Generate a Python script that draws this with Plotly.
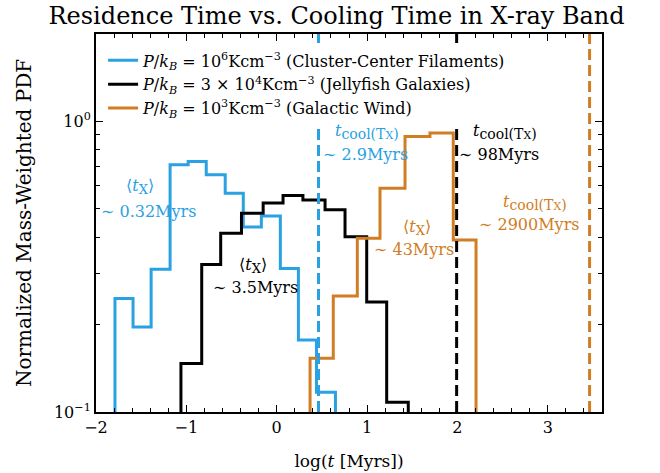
import numpy as np
import plotly.graph_objects as go

# ---------------- data ----------------
blue_edges = [-1.79, -1.59, -1.39, -1.18, -0.98, -0.78, -0.57, -0.37, -0.17, 0.04, 0.24, 0.44, 0.65]
blue_vals = [0.246, 0.196, 0.310, 0.710, 0.728, 0.655, 0.566, 0.433, 0.473, 0.312, 0.177, 0.117]

black_edges = [-1.06, -0.83, -0.62, -0.39, -0.15, 0.07, 0.29, 0.535, 0.756, 0.996, 1.217, 1.456]
black_vals = [0.147, 0.322, 0.412, 0.483, 0.524, 0.556, 0.537, 0.497, 0.401, 0.239, 0.108]

orange_edges = [0.369, 0.626, 0.892, 1.143, 1.42, 1.696, 1.954, 2.206]
orange_vals = [0.153, 0.251, 0.396, 0.589, 0.887, 0.912, 0.391]

series_names = [
    "<i>P</i>/<i>k</i><sub><i>B</i></sub> = 10<sup>6</sup>Kcm<sup>−3</sup> (Cluster-Center Filaments)",
    "<i>P</i>/<i>k</i><sub><i>B</i></sub> = 3 × 10<sup>4</sup>Kcm<sup>−3</sup> (Jellyfish Galaxies)",
    "<i>P</i>/<i>k</i><sub><i>B</i></sub> = 10<sup>3</sup>Kcm<sup>−3</sup> (Galactic Wind)",
]
colors = ["#2aa1e2", "#000000", "#d07d24"]

t_cool_myr = [2.9, 98, 2900]          # cooling times (vertical dashed lines)
t_cool_labels = ["∼ 2.9Myrs", "∼ 98Myrs", "∼ 2900Myrs"]
t_mean_labels = ["∼ 0.32Myrs", "∼ 3.5Myrs", "∼ 43Myrs"]

x_ticks = [-2, -1, 0, 1, 2, 3]
x_tick_text = ["−2", "−1", "0", "1", "2", "3"]
y_ticks = [0.1, 1.0]
y_tick_text = ["10<sup>−1</sup>", "10<sup>0</sup>"]

FLOOR = 0.05
FONT = "DejaVu Serif"

fig = go.Figure()
for edges, vals, name, col in [(blue_edges, blue_vals, series_names[0], colors[0]),
                               (black_edges, black_vals, series_names[1], colors[1]),
                               (orange_edges, orange_vals, series_names[2], colors[2])]:
    xs = [edges[0]] + list(edges)
    ys = [FLOOR] + list(vals) + [FLOOR]
    fig.add_trace(go.Scatter(x=xs, y=ys, mode="lines", line=dict(color=col, width=3, shape="hv"),
                             name=name))

for t, col in zip(t_cool_myr, colors):
    fig.add_shape(type="line", xref="x", yref="paper", x0=np.log10(t), x1=np.log10(t), y0=0, y1=1,
                  line=dict(color=col, width=3, dash="11px,5px"))

def ann(x, ylog, text, col, size=16):
    fig.add_annotation(x=x, y=ylog, xref="x", yref="y", text=text, showarrow=False,
                       font=dict(family=FONT, size=size, color=col), xanchor="center", yanchor="middle")

tX = "⟨<i>t</i><sub><span style='font-size:13px'>X</span></sub>⟩"
tc = ("<i>t</i><sub><span style='font-size:14px'>cool(T</span><span style='font-size:11px'>X</span>"
      "<span style='font-size:14px'>)</span></sub>")
# mean residence time labels
ann(-1.51, -0.225, tX, colors[0])
ann(-1.42, -0.311, t_mean_labels[0], colors[0])
ann(-0.26, -0.497, tX, colors[1])
ann(-0.24, -0.570, t_mean_labels[1], colors[1])
ann(1.55, -0.366, tX, colors[2])
ann(1.52, -0.439, t_mean_labels[2], colors[2])
# cooling time labels
ann(1.0, -0.036, tc, colors[0])
ann(0.98, -0.115, t_cool_labels[0], colors[0])
ann(2.53, -0.036, tc, colors[1])
ann(2.46, -0.115, t_cool_labels[1], colors[1])
ann(2.86, -0.278, tc, colors[2])
ann(2.80, -0.353, t_cool_labels[2], colors[2])

axis_common = dict(showline=True, linewidth=2, linecolor="black", mirror="allticks",
                   ticks="inside", tickcolor="black", showgrid=False, zeroline=False,
                   automargin=False,
                   tickfont=dict(family=FONT, size=16, color="black"))

fig.update_xaxes(range=[-2, 3.6], tickvals=x_ticks, ticktext=x_tick_text, ticklen=7, tickwidth=1.2,
                 minor=dict(ticks="inside", dtick=0.2, tick0=0, ticklen=4, tickcolor="black", tickwidth=1),
                 title=dict(text="log(<i>t</i> [Myrs])", font=dict(family=FONT, size=17, color="black"),
                            standoff=19),
                 **axis_common)
fig.update_yaxes(type="log", range=[-1, np.log10(2)], tickvals=y_ticks, ticktext=y_tick_text,
                 ticklen=7, tickwidth=1.2,
                 minor=dict(ticks="inside", tickvals=[0.2, 0.3, 0.4, 0.5, 0.6, 0.7, 0.8, 0.9, 2.0],
                            ticklen=4, tickcolor="black", tickwidth=1),
                 title=dict(text="Normalized Mass-Weighted PDF", font=dict(family=FONT, size=20, color="black"),
                            standoff=17),
                 **axis_common)

fig.update_layout(
    width=660, height=473,
    margin=dict(l=96, r=58, t=34, b=61),
    paper_bgcolor="white", plot_bgcolor="white",
    title=dict(text="Residence Time vs. Cooling Time in X-ray Band", x=0.51, xanchor="center",
               y=0.968, yanchor="middle", font=dict(family=FONT, size=24, color="black")),
    legend=dict(x=0.014, y=0.975, xanchor="left", yanchor="top", bgcolor="white",
                font=dict(family=FONT, size=16, color="black"), itemwidth=30, tracegroupgap=0),
    showlegend=True,
)

fig.write_html("out.html")
